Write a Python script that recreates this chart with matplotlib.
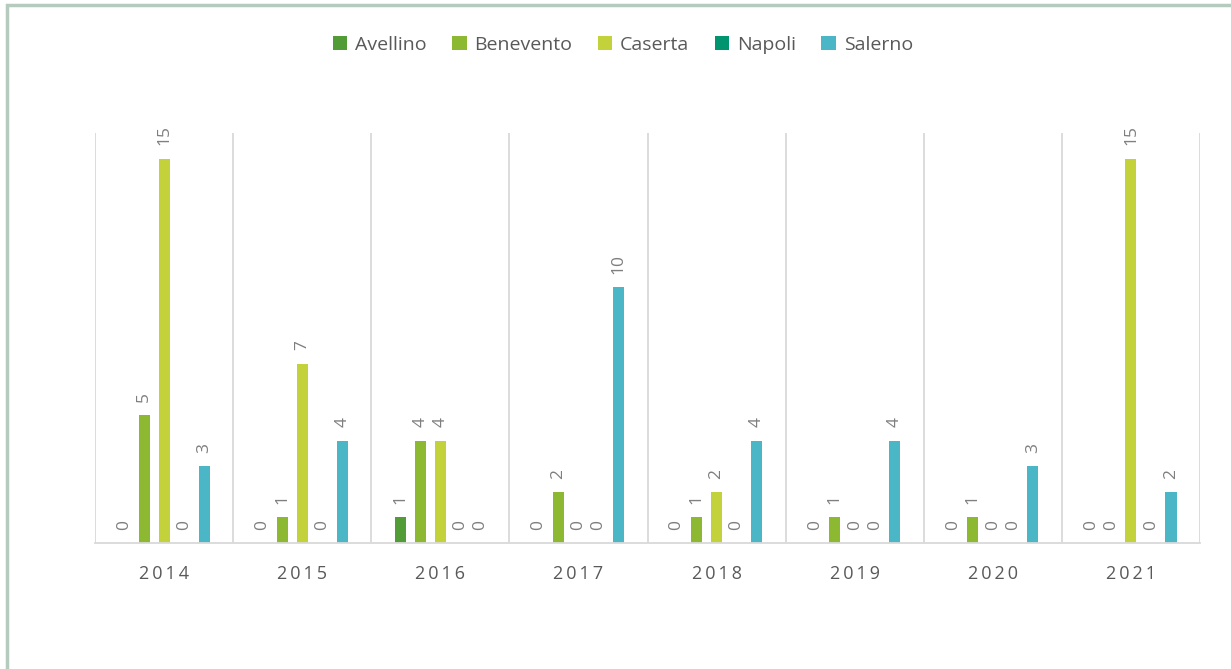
import matplotlib.pyplot as plt
import numpy as np
from matplotlib.patches import Rectangle

plt.rcParams['font.family'] = ['Open Sans', 'DejaVu Sans']

years = ['2014', '2015', '2016', '2017', '2018', '2019', '2020', '2021']
province = ['Avellino', 'Benevento', 'Caserta', 'Napoli', 'Salerno']
avellino = [0, 0, 1, 0, 0, 0, 0, 0]
benevento = [5, 1, 4, 2, 1, 1, 1, 0]
caserta = [15, 7, 4, 0, 2, 0, 0, 15]
napoli = [0, 0, 0, 0, 0, 0, 0, 0]
salerno = [3, 4, 0, 10, 4, 4, 3, 2]
colori = ['#529c37', '#8cb832', '#c3d13a', '#00946f', '#4bb6c6']

serie = [avellino, benevento, caserta, napoli, salerno]

fig = plt.figure(figsize=(12.31, 6.69), dpi=100)
ax = fig.add_axes([95/1231, 1-543/669, 1105/1231, 410/669])

x = np.arange(len(years))
step = 0.145
w = 0.08
for i, (nome, vals, c) in enumerate(zip(province, serie, colori)):
    pos = x + (i - 2) * step
    ax.bar(pos, vals, width=w, color=c, label=nome)
    for p, v in zip(pos, vals):
        ax.annotate(str(v), (p, v), xytext=(0, 9.5), textcoords='offset points',
                    rotation=90, ha='center', va='bottom', fontsize=12.5,
                    color='#7f7f7f')

ax.set_xlim(-0.5, len(years) - 0.5)
ax.set_ylim(0, 16)
ax.set_yticks([])
ax.set_xticks(np.arange(len(years) + 1) - 0.5)
ax.set_xticklabels([])
ax.set_xticks(x, minor=True)
ax.set_xticklabels(['\u2009'.join(y) for y in years], minor=True,
                   fontsize=13, color='#595959')
ax.tick_params(axis='x', which='both', length=0, pad=16)
ax.grid(axis='x', which='major', color='#d9d9d9', lw=1.3)
for s in ['top', 'right', 'left']:
    ax.spines[s].set_visible(False)
ax.spines['bottom'].set_color('#d9d9d9')
ax.spines['bottom'].set_linewidth(1.3)

fig.legend(loc='upper center', bbox_to_anchor=(0.506, 0.973), ncol=5,
           frameon=False, fontsize=14, handlelength=0.75, handleheight=0.75,
           handletextpad=0.4, columnspacing=1.3, labelcolor='#595959')

fig.patches.append(Rectangle((7/1231, -0.1), 1.2, 1.1 - 5/669,
                             transform=fig.transFigure, fill=False,
                             edgecolor='#b4cbbd', lw=2.5))

fig.savefig('out.png', dpi=100)
